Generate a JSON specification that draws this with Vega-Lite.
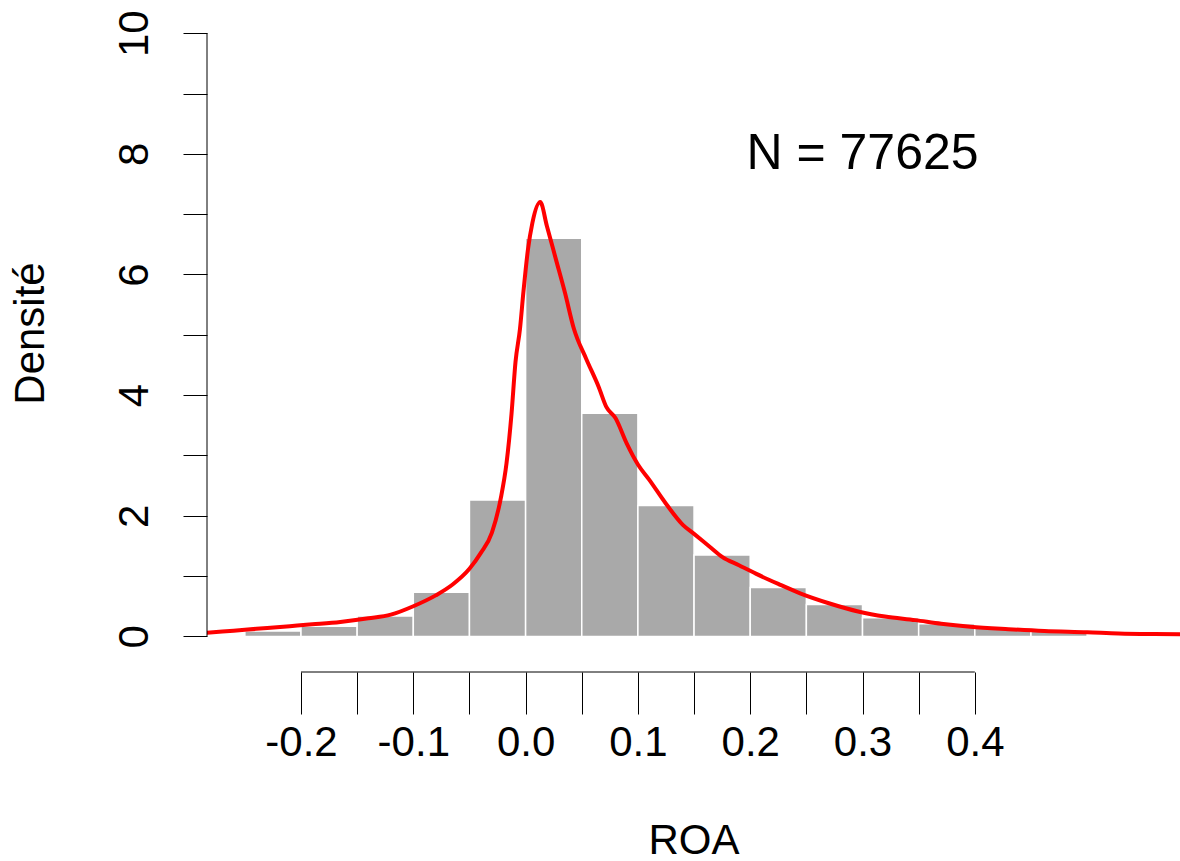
{
  "$schema": "https://vega.github.io/schema/vega-lite/v6.json",
  "autosize": "none",
  "width": 973,
  "height": 672,
  "padding": {"left": 207, "top": 0, "right": 0, "bottom": 189},
  "background": "white",
  "config": {"view": {"stroke": null}, "font": "Liberation Sans"},
  "datasets": {
    "bins": [
      {"lo": -0.25, "hi": -0.2, "density": 0.09},
      {"lo": -0.2, "hi": -0.15, "density": 0.17},
      {"lo": -0.15, "hi": -0.1, "density": 0.34},
      {"lo": -0.1, "hi": -0.05, "density": 0.73},
      {"lo": -0.05, "hi": 0.0, "density": 2.26},
      {"lo": 0.0, "hi": 0.05, "density": 6.6},
      {"lo": 0.05, "hi": 0.1, "density": 3.7},
      {"lo": 0.1, "hi": 0.15, "density": 2.17},
      {"lo": 0.15, "hi": 0.2, "density": 1.35},
      {"lo": 0.2, "hi": 0.25, "density": 0.81},
      {"lo": 0.25, "hi": 0.3, "density": 0.53},
      {"lo": 0.3, "hi": 0.35, "density": 0.31},
      {"lo": 0.35, "hi": 0.4, "density": 0.21},
      {"lo": 0.4, "hi": 0.45, "density": 0.14},
      {"lo": 0.45, "hi": 0.5, "density": 0.09}
    ],
    "curve": [
      {"x": -0.29, "y": 0.05},
      {"x": -0.27, "y": 0.08},
      {"x": -0.25, "y": 0.11},
      {"x": -0.23, "y": 0.14},
      {"x": -0.21, "y": 0.17},
      {"x": -0.19, "y": 0.2},
      {"x": -0.165, "y": 0.24},
      {"x": -0.14, "y": 0.3},
      {"x": -0.12, "y": 0.36},
      {"x": -0.1, "y": 0.5},
      {"x": -0.08, "y": 0.68},
      {"x": -0.065, "y": 0.86},
      {"x": -0.05, "y": 1.12},
      {"x": -0.04, "y": 1.38},
      {"x": -0.03, "y": 1.72},
      {"x": -0.022, "y": 2.3},
      {"x": -0.017, "y": 2.87},
      {"x": -0.0125, "y": 3.7},
      {"x": -0.009, "y": 4.55},
      {"x": -0.005, "y": 5.1},
      {"x": -0.002, "y": 5.7},
      {"x": 0.002, "y": 6.4},
      {"x": 0.006, "y": 6.85},
      {"x": 0.013, "y": 7.2},
      {"x": 0.019, "y": 6.8},
      {"x": 0.027, "y": 6.25},
      {"x": 0.035, "y": 5.7},
      {"x": 0.043, "y": 5.1},
      {"x": 0.054, "y": 4.6},
      {"x": 0.065, "y": 4.14},
      {"x": 0.072, "y": 3.8},
      {"x": 0.08, "y": 3.62},
      {"x": 0.09, "y": 3.2},
      {"x": 0.1, "y": 2.85},
      {"x": 0.11, "y": 2.6},
      {"x": 0.125, "y": 2.2},
      {"x": 0.14, "y": 1.85},
      {"x": 0.15, "y": 1.7},
      {"x": 0.165, "y": 1.47},
      {"x": 0.175, "y": 1.32},
      {"x": 0.19, "y": 1.18},
      {"x": 0.205, "y": 1.04},
      {"x": 0.225, "y": 0.87},
      {"x": 0.245, "y": 0.71},
      {"x": 0.27, "y": 0.55},
      {"x": 0.297, "y": 0.41},
      {"x": 0.32, "y": 0.33},
      {"x": 0.347, "y": 0.27},
      {"x": 0.37, "y": 0.21},
      {"x": 0.396, "y": 0.16},
      {"x": 0.43, "y": 0.12},
      {"x": 0.462, "y": 0.09},
      {"x": 0.5, "y": 0.07},
      {"x": 0.528, "y": 0.05},
      {"x": 0.56, "y": 0.04},
      {"x": 0.6, "y": 0.035}
    ],
    "xaxisline": [{"a": -0.2, "b": 0.4, "y": -0.59}],
    "yaxisline": [{"x": -0.2837, "a": 0, "b": 10}],
    "note": [{"x": 0.3, "y": 8, "label": "N = 77625"}]
  },
  "layer": [
    {
      "data": {"name": "bins"},
      "mark": {"type": "rect", "fill": "#A9A9A9", "stroke": "white", "strokeWidth": 1.5},
      "encoding": {
        "x": {
          "field": "lo", "type": "quantitative",
          "scale": {"domain": [-0.2837, 0.5827], "nice": false, "zero": false},
          "axis": {
            "orient": "bottom",
            "values": [-0.2, -0.15, -0.1, -0.05, 0, 0.05, 0.1, 0.15, 0.2, 0.25, 0.3, 0.35, 0.4],
            "labelExpr": "abs(round(datum.value * 100)) % 10 === 0 ? (datum.value < 0 ? '-' : '') + format(abs(datum.value), '.1f') : ''",
            "domain": false,
            "grid": false,
            "ticks": true,
            "tickSize": 42,
            "tickColor": "black",
            "tickWidth": 1,
            "labelFont": "Liberation Sans",
            "labelFontSize": 42,
            "labelColor": "black",
            "labelBaseline": "alphabetic",
            "labelPadding": 41,
            "labelFlush": false,
            "labelOverlap": false,
            "title": "ROA",
            "titleFont": "Liberation Sans",
            "titleFontSize": 42,
            "titleFontWeight": "normal",
            "titleColor": "black",
            "titleBaseline": "alphabetic",
            "titleY": 181
          }
        },
        "x2": {"field": "hi"},
        "y": {
          "field": "density", "type": "quantitative",
          "scale": {"domain": [-0.59, 10.55], "nice": false, "zero": false},
          "axis": {
            "orient": "left",
            "values": [0, 1, 2, 3, 4, 5, 6, 7, 8, 9, 10],
            "labelExpr": "datum.value % 2 === 0 ? format(datum.value, 'd') : ''",
            "domain": false,
            "grid": false,
            "tickSize": 24,
            "tickColor": "black",
            "tickWidth": 1,
            "labelFont": "Liberation Sans",
            "labelFontSize": 42,
            "labelColor": "black",
            "labelAngle": 270,
            "labelAlign": "center",
            "labelBaseline": "alphabetic",
            "labelPadding": 36,
            "labelFlush": false,
            "labelOverlap": false,
            "title": "Densité",
            "titleFont": "Liberation Sans",
            "titleFontSize": 42,
            "titleFontWeight": "normal",
            "titleColor": "black",
            "titleAngle": 270,
            "titleAlign": "center",
            "titleBaseline": "alphabetic",
            "titleX": -164,
            "titleY": 333
          }
        },
        "y2": {"datum": 0}
      }
    },
    {
      "data": {"name": "curve"},
      "mark": {"type": "line", "color": "#FF0000", "strokeWidth": 4, "clip": true, "interpolate": "monotone"},
      "encoding": {
        "x": {"field": "x", "type": "quantitative"},
        "y": {"field": "y", "type": "quantitative"}
      }
    },
    {
      "data": {"name": "xaxisline"},
      "mark": {"type": "rule", "color": "black", "strokeWidth": 1},
      "encoding": {
        "x": {"field": "a", "type": "quantitative"},
        "x2": {"field": "b"},
        "y": {"field": "y", "type": "quantitative"}
      }
    },
    {
      "data": {"name": "yaxisline"},
      "mark": {"type": "rule", "color": "black", "strokeWidth": 1},
      "encoding": {
        "x": {"field": "x", "type": "quantitative"},
        "y": {"field": "a", "type": "quantitative"},
        "y2": {"field": "b"}
      }
    },
    {
      "data": {"name": "note"},
      "mark": {"type": "text", "font": "Liberation Sans", "fontSize": 50, "align": "center", "baseline": "middle", "color": "black"},
      "encoding": {
        "x": {"field": "x", "type": "quantitative"},
        "y": {"field": "y", "type": "quantitative"},
        "text": {"field": "label"}
      }
    }
  ]
}
